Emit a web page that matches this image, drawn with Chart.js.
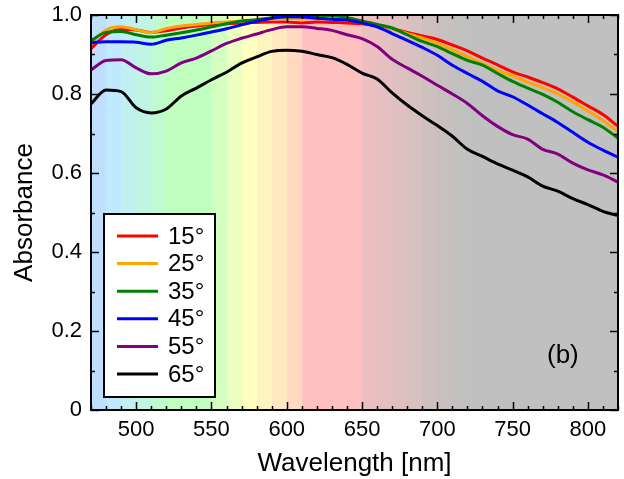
<!DOCTYPE html>
<html>
<head>
<meta charset="utf-8">
<title>Absorbance vs wavelength</title>
<script src="https://cdn.jsdelivr.net/npm/chart.js@4.4.1/dist/chart.umd.min.js"></script>
<style>
  html, body { margin: 0; padding: 0; background: #fff; overflow: hidden; }
  #wrap { width: 624px; height: 479px; }
</style>
</head>
<body>
<div id="wrap"><canvas id="absChart" width="624" height="479"></canvas></div>
<script>
// Data (wavelength in nm, absorbance 0..1)
const wavelengths = [470, 480, 490, 500, 510, 520, 530, 540, 550, 560, 570, 580, 590, 600, 610, 620, 630, 640,
                     650, 660, 670, 680, 690, 700, 710, 720, 730, 740, 750, 760, 770, 780, 790, 800, 810, 820];

const abs15 = [0.915, 0.950, 0.963, 0.962, 0.956, 0.960, 0.967, 0.972, 0.976, 0.978, 0.980, 0.981, 0.982, 0.982, 0.980, 0.982, 0.981, 0.980,
               0.978, 0.974, 0.966, 0.956, 0.947, 0.938, 0.924, 0.909, 0.891, 0.874, 0.856, 0.843, 0.829, 0.813, 0.792, 0.770, 0.748, 0.718];
const abs25 = [0.930, 0.962, 0.970, 0.963, 0.955, 0.966, 0.972, 0.976, 0.980, 0.982, 0.984, 0.987, 0.990, 0.991, 0.990, 0.991, 0.990, 0.988,
               0.983, 0.977, 0.965, 0.953, 0.942, 0.929, 0.912, 0.895, 0.877, 0.860, 0.846, 0.830, 0.816, 0.800, 0.780, 0.757, 0.733, 0.705];
const abs35 = [0.935, 0.956, 0.958, 0.950, 0.944, 0.949, 0.955, 0.962, 0.970, 0.978, 0.985, 0.988, 0.993, 0.995, 0.996, 0.998, 0.999, 0.993,
               0.985, 0.976, 0.967, 0.950, 0.933, 0.920, 0.902, 0.885, 0.873, 0.852, 0.832, 0.815, 0.799, 0.779, 0.755, 0.735, 0.716, 0.688];
const abs45 = [0.930, 0.932, 0.932, 0.931, 0.926, 0.936, 0.942, 0.949, 0.957, 0.965, 0.975, 0.984, 0.992, 0.996, 0.995, 0.992, 0.989, 0.987,
               0.980, 0.970, 0.953, 0.936, 0.918, 0.898, 0.873, 0.852, 0.832, 0.808, 0.793, 0.772, 0.750, 0.728, 0.703, 0.678, 0.658, 0.640];
const abs55 = [0.861, 0.885, 0.887, 0.866, 0.851, 0.858, 0.879, 0.891, 0.909, 0.928, 0.941, 0.952, 0.963, 0.970, 0.970, 0.966, 0.961, 0.950,
               0.940, 0.920, 0.888, 0.866, 0.845, 0.822, 0.800, 0.776, 0.745, 0.718, 0.697, 0.686, 0.660, 0.648, 0.625, 0.608, 0.595, 0.577];
const abs65 = [0.775, 0.810, 0.806, 0.765, 0.752, 0.762, 0.795, 0.815, 0.836, 0.855, 0.878, 0.894, 0.908, 0.911, 0.908, 0.900, 0.892, 0.875,
               0.853, 0.838, 0.803, 0.772, 0.745, 0.720, 0.693, 0.660, 0.642, 0.623, 0.607, 0.590, 0.567, 0.554, 0.535, 0.520, 0.503, 0.492];

const seriesLabels = ['15°', '25°', '35°', '45°', '55°', '65°'];
const seriesValues = [abs15, abs25, abs35, abs45, abs55, abs65];
const seriesColors = ['#ff0000', '#ffa500', '#008000', '#0000ff', '#800080', '#000000'];

const xTickValues = [500, 550, 600, 650, 700, 750, 800];
const yTickValues = [0, 0.2, 0.4, 0.6, 0.8, 1.0];

// Spectrum colour bands behind the curves (edges in nm)
const bandEdges = [470, 480, 490, 500, 510, 520, 550, 560, 570, 580, 590, 600, 610, 650, 660, 670, 680, 690, 700, 710, 720, 820];
const bandColors = ['#c0dfff', '#c0e9ff', '#c0f0f0', '#bff5e2', '#c0fbd0', '#c0ffc0', '#d5ffc0', '#eaffc0', '#ffffc0',
                    '#fff4c0', '#ffe9c0', '#ffd9c0', '#ffc0c0', '#ecbfc0', '#e6bfc0', '#dec0c0', '#d6c0c0', '#cfc0c0',
                    '#c8c0c0', '#c3c0c0', '#c0c0c0'];

const FONT = '"Liberation Sans", Arial, sans-serif';

const spectrumBands = {
    id: 'spectrumBands',
    beforeDatasetsDraw(chart) {
        const { ctx, chartArea: a, scales: { x } } = chart;
        ctx.save();
        for (let i = 0; i < bandColors.length; i++) {
            const x0 = Math.round(x.getPixelForValue(bandEdges[i]));
            const x1 = Math.round(x.getPixelForValue(bandEdges[i + 1]));
            ctx.fillStyle = bandColors[i];
            ctx.fillRect(x0, a.top, x1 - x0 + 1, a.bottom - a.top);
        }
        ctx.restore();
    }
};

// Box frame with inward major/minor ticks on all four sides
const frameTicks = {
    id: 'frameTicks',
    afterDatasetsDraw(chart) {
        const { ctx, chartArea: a, scales: { x, y } } = chart;
        ctx.save();
        ctx.strokeStyle = '#000';
        ctx.lineWidth = 1.5;
        ctx.beginPath();
        for (let nm = 470; nm <= 820; nm += 10) {
            const px = Math.round(x.getPixelForValue(nm)) + 0.5;
            const len = nm % 50 === 0 ? 8 : 4;
            ctx.moveTo(px, a.bottom); ctx.lineTo(px, a.bottom - len);
            ctx.moveTo(px, a.top); ctx.lineTo(px, a.top + len);
        }
        for (let i = 0; i <= 10; i++) {
            const py = Math.round(y.getPixelForValue(i / 10)) + 0.5;
            const len = i % 2 === 0 ? 8 : 4;
            ctx.moveTo(a.left, py); ctx.lineTo(a.left + len, py);
            ctx.moveTo(a.right, py); ctx.lineTo(a.right - len, py);
        }
        ctx.stroke();
        ctx.lineWidth = 2;
        ctx.strokeRect(a.left, a.top, a.right - a.left, a.bottom - a.top);
        ctx.restore();
    }
};

// Legend box in the lower-left of the plot, plus the panel label
const insetLegend = {
    id: 'insetLegend',
    afterDraw(chart) {
        const { ctx, chartArea: a } = chart;
        const left = a.left + 13, top = a.top + 199, w = 111, h = 183;
        ctx.save();
        ctx.fillStyle = '#fff';
        ctx.fillRect(left, top, w, h);
        ctx.strokeStyle = '#000';
        ctx.lineWidth = 2;
        ctx.strokeRect(left, top, w, h);
        ctx.font = '24px ' + FONT;
        ctx.textBaseline = 'middle';
        chart.data.datasets.forEach((ds, i) => {
            const ry = top + 22 + i * 27.6;
            ctx.strokeStyle = ds.borderColor;
            ctx.lineWidth = 3;
            ctx.beginPath();
            ctx.moveTo(left + 13, ry);
            ctx.lineTo(left + 54, ry);
            ctx.stroke();
            ctx.fillStyle = '#000';
            ctx.fillText(ds.label, left + 64, ry + 1);
        });
        ctx.font = '26px ' + FONT;
        ctx.fillText('(b)', a.right - 71, a.top + 341);
        ctx.restore();
    }
};

// Drop the extra room Chart.js reserves for half-labels at the axis ends
function noEdgePadding(scale) {
    scale.paddingTop = 0;
    scale.paddingBottom = 0;
    scale.paddingLeft = 0;
    scale.paddingRight = 0;
}

function initAbsorbanceChart() {
    const canvas = document.getElementById('absChart');
    if (!canvas) return null;

    Chart.defaults.font.family = FONT;
    Chart.defaults.color = '#000';

    const datasets = seriesValues.map((vals, i) => ({
        label: seriesLabels[i],
        data: wavelengths.map((w, j) => ({ x: w, y: vals[j] })),
        borderColor: seriesColors[i],
        backgroundColor: seriesColors[i],
        borderWidth: 3,
        pointRadius: 0,
        cubicInterpolationMode: 'monotone',
        order: seriesValues.length - i
    }));

    return new Chart(canvas.getContext('2d'), {
        type: 'line',
        data: { datasets },
        options: {
            responsive: false,
            animation: false,
            layout: { padding: { left: 0, right: 6, top: 15, bottom: 0 } },
            plugins: {
                legend: { display: false },
                tooltip: { enabled: false }
            },
            scales: {
                x: {
                    type: 'linear',
                    min: 470,
                    max: 820,
                    grid: { display: false, drawTicks: false },
                    border: { display: false },
                    afterBuildTicks: s => { s.ticks = xTickValues.map(v => ({ value: v })); },
                    afterFit: s => { s.height = 69; noEdgePadding(s); },
                    ticks: { color: '#000', font: { size: 22 }, padding: 7, maxRotation: 0, autoSkip: false },
                    title: { display: true, text: 'Wavelength [nm]', color: '#000', font: { size: 26 }, padding: { top: 0, bottom: 0 } }
                },
                y: {
                    min: 0,
                    max: 1,
                    grid: { display: false, drawTicks: false },
                    border: { display: false },
                    afterBuildTicks: s => { s.ticks = yTickValues.map(v => ({ value: v })); },
                    afterFit: s => { s.width = 91; noEdgePadding(s); },
                    ticks: {
                        color: '#000',
                        font: { size: 22 },
                        padding: 9,
                        callback: v => (v === 0 ? '0' : v.toFixed(1))
                    },
                    title: { display: true, text: 'Absorbance', color: '#000', font: { size: 26 }, padding: { top: 9, bottom: 0 } }
                }
            }
        },
        plugins: [spectrumBands, frameTicks, insetLegend]
    });
}

initAbsorbanceChart();
</script>
</body>
</html>
